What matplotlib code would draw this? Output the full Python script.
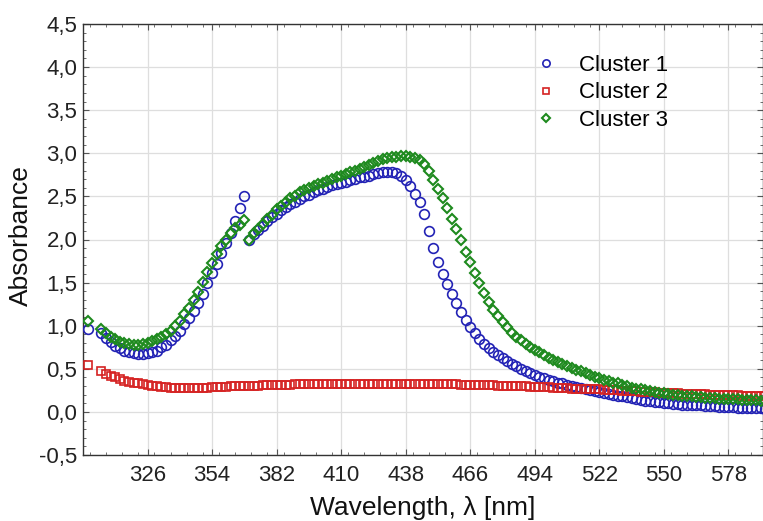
import matplotlib
matplotlib.use("Agg")
import matplotlib.pyplot as plt
from matplotlib.ticker import MultipleLocator, FixedLocator, FuncFormatter

plt.rcParams['font.family'] = ['Liberation Sans', 'DejaVu Sans']

wavelength = [300,
    306,308,310,312,314,316,318,320,322,324,
    326,328,330,332,334,336,338,340,342,344,
    346,348,350,352,354,356,358,360,362,364,
    366,368,370,372,374,376,378,380,382,384,
    386,388,390,392,394,396,398,400,402,404,
    406,408,410,412,414,416,418,420,422,424,
    426,428,430,432,434,436,438,440,442,444,
    446,448,450,452,454,456,458,460,462,464,
    466,468,470,472,474,476,478,480,482,484,
    486,488,490,492,494,496,498,500,502,504,
    506,508,510,512,514,516,518,520,522,524,
    526,528,530,532,534,536,538,540,542,544,
    546,548,550,552,554,556,558,560,562,564,
    566,568,570,572,574,576,578,580,582,584,
    586,588,590,592,594]

cluster1 = [0.96,
    0.92,0.86,0.81,0.77,0.74,0.71,0.69,0.68,0.67,0.67,
    0.68,0.69,0.71,0.75,0.78,0.83,0.88,0.94,1.02,1.09,
    1.17,1.26,1.37,1.49,1.61,1.72,1.84,1.96,2.08,2.22,
    2.37,2.50,2.00,2.06,2.11,2.16,2.21,2.26,2.30,2.34,
    2.38,2.41,2.44,2.47,2.50,2.52,2.55,2.57,2.59,2.61,
    2.63,2.64,2.66,2.67,2.69,2.70,2.72,2.73,2.74,2.76,
    2.77,2.78,2.78,2.78,2.77,2.74,2.69,2.62,2.53,2.43,
    2.30,2.10,1.90,1.74,1.60,1.48,1.37,1.26,1.16,1.07,
    0.99,0.92,0.85,0.79,0.74,0.70,0.66,0.63,0.59,0.56,
    0.53,0.50,0.48,0.45,0.43,0.41,0.39,0.37,0.36,0.34,
    0.33,0.31,0.30,0.29,0.28,0.27,0.25,0.24,0.23,0.22,
    0.21,0.20,0.19,0.18,0.17,0.16,0.15,0.14,0.13,0.125,
    0.12,0.11,0.105,0.10,0.095,0.09,0.085,0.08,0.08,0.075,
    0.075,0.07,0.07,0.065,0.06,0.06,0.055,0.055,0.05,0.05,
    0.045,0.045,0.04,0.04,0.035]

cluster2 = [0.54,
    0.47,0.44,0.42,0.40,0.38,0.36,0.35,0.34,0.33,0.32,
    0.31,0.30,0.30,0.29,0.29,0.28,0.28,0.28,0.28,0.28,
    0.28,0.28,0.28,0.28,0.29,0.29,0.29,0.29,0.30,0.30,
    0.30,0.30,0.30,0.30,0.30,0.31,0.31,0.31,0.31,0.31,
    0.31,0.31,0.32,0.32,0.32,0.32,0.32,0.32,0.32,0.32,
    0.32,0.32,0.32,0.32,0.32,0.32,0.32,0.32,0.32,0.32,
    0.32,0.32,0.32,0.32,0.32,0.32,0.32,0.32,0.32,0.32,
    0.32,0.32,0.32,0.32,0.32,0.32,0.32,0.32,0.31,0.31,
    0.31,0.31,0.31,0.31,0.31,0.31,0.30,0.30,0.30,0.30,
    0.30,0.30,0.30,0.29,0.29,0.29,0.29,0.29,0.28,0.28,
    0.28,0.28,0.27,0.27,0.27,0.27,0.26,0.26,0.26,0.25,
    0.25,0.25,0.25,0.24,0.24,0.24,0.24,0.23,0.23,0.23,
    0.23,0.22,0.22,0.22,0.22,0.22,0.21,0.21,0.21,0.21,
    0.21,0.21,0.20,0.20,0.20,0.20,0.20,0.20,0.20,0.19,
    0.19,0.19,0.19,0.19,0.19]

cluster3 = [1.06,
    0.96,0.91,0.87,0.84,0.81,0.80,0.79,0.78,0.78,0.79,
    0.80,0.82,0.85,0.87,0.90,0.94,1.00,1.06,1.13,1.21,
    1.30,1.39,1.51,1.62,1.73,1.83,1.92,2.00,2.07,2.13,
    2.17,2.23,2.00,2.07,2.12,2.18,2.24,2.29,2.35,2.39,
    2.44,2.48,2.51,2.55,2.57,2.60,2.62,2.64,2.66,2.68,
    2.70,2.72,2.74,2.76,2.78,2.80,2.82,2.84,2.87,2.89,
    2.91,2.93,2.95,2.96,2.96,2.97,2.97,2.96,2.95,2.92,
    2.88,2.80,2.69,2.59,2.48,2.36,2.24,2.12,1.99,1.86,
    1.74,1.61,1.49,1.38,1.28,1.18,1.11,1.04,0.98,0.92,
    0.87,0.83,0.79,0.75,0.72,0.69,0.66,0.63,0.60,0.58,
    0.55,0.53,0.51,0.49,0.47,0.45,0.43,0.41,0.39,0.37,
    0.36,0.34,0.33,0.31,0.30,0.28,0.27,0.26,0.25,0.24,
    0.23,0.22,0.215,0.21,0.20,0.195,0.19,0.185,0.18,0.175,
    0.17,0.165,0.16,0.16,0.155,0.15,0.15,0.145,0.145,0.14,
    0.14,0.135,0.135,0.13,0.13]

labels = ["Cluster 1", "Cluster 2", "Cluster 3"]
x_ticks = [326, 354, 382, 410, 438, 466, 494, 522, 550, 578]
y_ticks = [-0.5, 0.0, 0.5, 1.0, 1.5, 2.0, 2.5, 3.0, 3.5, 4.0, 4.5]

fig = plt.figure(figsize=(7.63, 5.21), dpi=100)
ax = fig.add_axes([83/763, 66/521, 1 - 83/763, 431/521])

blue = '#2323b5'
red = '#d52222'
green = '#1e8a1e'

ax.plot(wavelength, cluster1, linestyle='none', marker='o', markersize=7.0,
        markerfacecolor='none', markeredgecolor=blue, markeredgewidth=1.2, label=labels[0], zorder=3)
ax.plot(wavelength, cluster2, linestyle='none', marker='s', markersize=6.3,
        markerfacecolor='none', markeredgecolor=red, markeredgewidth=1.2, label=labels[1], zorder=3)
ax.plot(wavelength, cluster3, linestyle='none', marker='D', markersize=5.0,
        markerfacecolor='none', markeredgecolor=green, markeredgewidth=1.5, label=labels[2], zorder=4)

ax.set_xlim(298, 593)
ax.set_ylim(-0.5, 4.5)
ax.xaxis.set_major_locator(FixedLocator(x_ticks))
ax.xaxis.set_minor_locator(MultipleLocator(7))
ax.yaxis.set_major_locator(FixedLocator(y_ticks))
ax.yaxis.set_minor_locator(MultipleLocator(0.1))
ax.yaxis.set_major_formatter(FuncFormatter(lambda v, p: f"{v:.1f}".replace('.', ',')))

ax.grid(True, which='major', color='#dedede', linewidth=0.9)
ax.set_axisbelow(True)
for s in ['left', 'bottom', 'top', 'right']:
    ax.spines[s].set_color('#333333')
    ax.spines[s].set_linewidth(1.0)

ax.tick_params(which='both', direction='in', top=True, right=True, colors='#555555',
               labelcolor='#222222')
ax.tick_params(which='major', length=4, labelsize=16)
ax.tick_params(axis='x', which='major', pad=7)
ax.tick_params(axis='y', which='major', pad=4)
ax.tick_params(which='minor', length=2)

ax.set_xlabel('Wavelength, λ [nm]', fontsize=19, color='#111111')
ax.set_ylabel('Absorbance', fontsize=19, color='#111111')
ax.xaxis.set_label_coords(0.5, -0.095)
ax.yaxis.set_label_coords(-0.074, 0.508)

leg = ax.legend(loc='upper left', bbox_to_anchor=(0.635, 0.975), frameon=False,
                fontsize=16, handlelength=1.0, handletextpad=1.0, labelspacing=0.3,
                markerscale=0.75)

fig.savefig('out.png', dpi=100)
